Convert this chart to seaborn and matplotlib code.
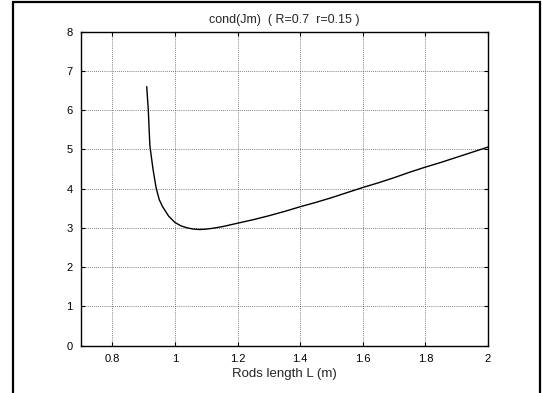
import pandas as pd
import matplotlib.pyplot as plt
import matplotlib.lines as mlines
import seaborn as sns

# Values
rod_length = [0.91, 0.915, 0.92, 0.93, 0.94, 0.95, 0.96, 0.98, 1.0, 1.02, 1.04, 1.06,
              1.08, 1.1, 1.12, 1.15, 1.2, 1.25, 1.3, 1.35, 1.4, 1.45, 1.5, 1.55,
              1.6, 1.65, 1.7, 1.75, 1.8, 1.85, 1.9, 1.95, 2.0]
cond_jm = [6.6, 6.0, 5.1, 4.5, 4.02, 3.72, 3.55, 3.3, 3.14, 3.05, 3.0, 2.97,
           2.96, 2.97, 2.99, 3.03, 3.12, 3.21, 3.31, 3.42, 3.54, 3.65, 3.77, 3.9,
           4.03, 4.15, 4.28, 4.42, 4.55, 4.67, 4.8, 4.93, 5.06]
x_ticks = [0.8, 1, 1.2, 1.4, 1.6, 1.8, 2]
x_labels = ['0.8', '1', '1.2', '1.4', '1.6', '1.8', '2']
y_ticks = [0, 1, 2, 3, 4, 5, 6, 7, 8]

df = pd.DataFrame({'L': rod_length, 'cond': cond_jm})

sns.set_style("ticks")
plt.rcParams['font.family'] = ['Liberation Sans', 'DejaVu Sans']

fig = plt.figure(figsize=(5.42, 3.93), dpi=100)
ax = fig.add_axes([0.1494, 0.1204, 0.751, 0.799])

sns.lineplot(x='L', y='cond', data=df, ax=ax, color='black', linewidth=1.0)

ax.set_xlim(0.7, 2)
ax.set_ylim(0, 8)
ax.set_xticks(x_ticks)
ax.set_xticklabels(x_labels)
ax.set_yticks(y_ticks)
ax.grid(True, color='#555555', linestyle=(0, (1, 1.5)), linewidth=0.6)
ax.tick_params(direction='in', length=3, width=0.8, labelsize=8,
               top=True, right=True, pad=6, colors='black')
for s in ax.spines.values():
    s.set_visible(True)
    s.set_linewidth(1.0)
    s.set_color('black')

ax.set_title('cond(Jm)  ( R=0.7  r=0.15 )', fontsize=9, pad=6)
ax.set_xlabel('Rods length L (m)', fontsize=9.5, labelpad=3)
ax.set_ylabel('')

# outer frame like the original figure window border
for xy in [([0.024, 0.024], [0, 0.996]),
           ([0.024, 0.997], [0.996, 0.996]),
           ([0.997, 0.997], [0, 0.996])]:
    fig.add_artist(mlines.Line2D(xy[0], xy[1], color='black', linewidth=1.6,
                                 transform=fig.transFigure))

fig.savefig('out.png', dpi=100)
